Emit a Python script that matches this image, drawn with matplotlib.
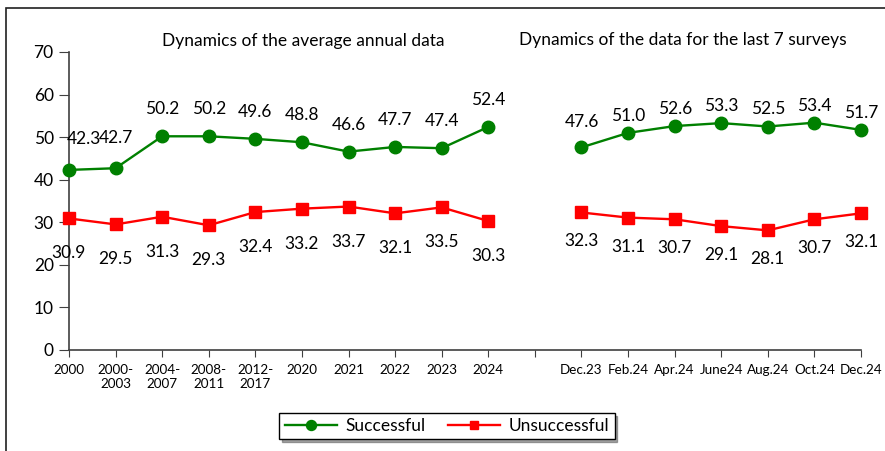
import matplotlib.pyplot as plt
import numpy as np
from matplotlib.patches import Rectangle

plt.rcParams['font.family'] = ['Lato', 'DejaVu Sans']

# Data
years = ['2000', '2000-\n2003', '2004-\n2007', '2008-\n2011', '2012-\n2017',
         '2020', '2021', '2022', '2023', '2024']
surveys = ['Dec.23', 'Feb.24', 'Apr.24', 'June24', 'Aug.24', 'Oct.24', 'Dec.24']

succ_annual = [42.3, 42.7, 50.2, 50.2, 49.6, 48.8, 46.6, 47.7, 47.4, 52.4]
unsucc_annual = [30.9, 29.5, 31.3, 29.3, 32.4, 33.2, 33.7, 32.1, 33.5, 30.3]
succ_survey = [47.6, 51.0, 52.6, 53.3, 52.5, 53.4, 51.7]
unsucc_survey = [32.3, 31.1, 30.7, 29.1, 28.1, 30.7, 32.1]

green = '#008000'
red = '#FF0000'

fig = plt.figure(figsize=(8.85, 4.51), dpi=100)
ax = fig.add_axes([69/885, 1 - 350/451, (861 - 69)/885, (350 - 52)/451])

xa = np.arange(len(years))
xs = np.arange(len(surveys)) + len(years) + 1

line_kw = dict(lw=1.7, clip_on=False, zorder=3)
l1, = ax.plot(xa, succ_annual, color=green, marker='o', ms=9, **line_kw)
ax.plot(xs, succ_survey, color=green, marker='o', ms=9, **line_kw)
l2, = ax.plot(xa, unsucc_annual, color=red, marker='s', ms=8, **line_kw)
ax.plot(xs, unsucc_survey, color=red, marker='s', ms=8, **line_kw)

def label(xv, vals, dy, first=None):
    for i, (x, v) in enumerate(zip(xv, vals)):
        off = (0, dy)
        if first is not None and i in first:
            off = first[i]
        ax.annotate(f'{v:.1f}', (x, v), xytext=off, textcoords='offset pixels',
                    ha='center', va='center', fontsize=12.5, annotation_clip=False)

label(xa, succ_annual, 27, first={0: (15, 31), 1: (0, 30)})
label(xa, unsucc_annual, -35)
label(xs, succ_survey, 17, first={0: (0, 25)})
label(xs, unsucc_survey, -29)

ax.set_xlim(0, len(years) + len(surveys))
ax.set_ylim(0, 70)
ax.set_yticks(range(0, 71, 10))
ax.set_xticks(list(xa) + [len(years)] + list(xs))
ax.set_xticklabels(years + [''] + surveys)
for s in ['top', 'right']:
    ax.spines[s].set_visible(False)
for s in ['left', 'bottom']:
    ax.spines[s].set_color('#404040')
    ax.spines[s].set_linewidth(1.2)
ax.tick_params(axis='y', direction='out', length=7, labelsize=12.5, pad=4, color='#404040')
ax.tick_params(axis='x', direction='out', length=5, labelsize=9.7, pad=5, color='#404040')

fig.text(303/885, 1 - 41/451, 'Dynamics of the average annual data',
         ha='center', va='center', fontsize=12.5)
fig.text(683/885, 1 - 40/451, 'Dynamics of the data for the last 7 surveys',
         ha='center', va='center', fontsize=12.5)

leg = fig.legend(handles=[l1, l2], labels=['Successful', 'Unsuccessful'],
                 loc='center', bbox_to_anchor=(447/885, 1 - 426/451), ncol=2,
                 frameon=True, fancybox=False, shadow=True, edgecolor='black',
                 fontsize=12.5, handlelength=3.0, handletextpad=0.5,
                 columnspacing=1.3, borderpad=0.3, borderaxespad=0,
                 markerscale=0.8)
leg.get_frame().set_linewidth(1.0)

fig.patches.append(Rectangle((6/885, -0.1), 1.2, 1 - 8/451 + 0.1,
                             transform=fig.transFigure, fill=False,
                             ec='#202020', lw=1.2))

fig.savefig('out.png', dpi=100)
